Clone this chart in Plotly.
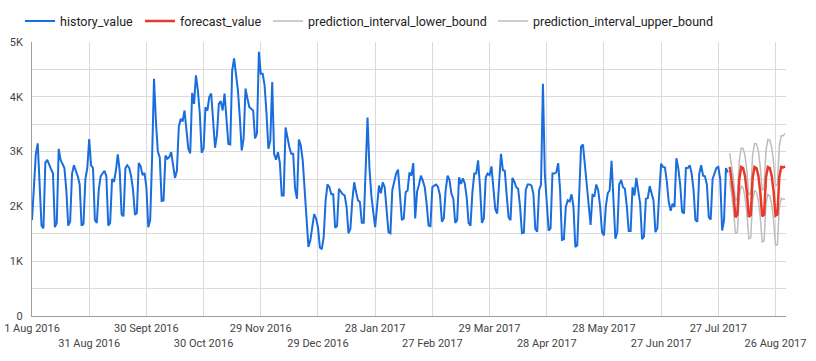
import pandas as pd
import plotly.graph_objects as go

history_start = "2016-08-01"
history_value = [
    1750, 2400, 2950, 3150, 2400, 1650, 1600,
    2800, 2850, 2750, 2680, 2600, 1620, 1700,
    3050, 2850, 2780, 2700, 2300, 1650, 1720,
    2600, 2750, 2650, 2550, 2400, 1650, 1680,
    2500, 2700, 3230, 2750, 2700, 1750, 1700,
    2300, 2550, 2600, 2650, 2550, 1650, 1700,
    2500, 2450, 2650, 2950, 2650, 1850, 1820,
    2700, 2750, 2700, 2550, 2300, 1850, 1880,
    2790, 2730, 2570, 2610, 2350, 1620, 1750,
    2900, 4330, 3550, 3000, 2900, 2100, 2110,
    2930, 2870, 2900, 2990, 2780, 2520, 2650,
    3450, 3600, 3550, 3750, 3400, 3050, 2970,
    4070, 3870, 4390, 4120, 3700, 2980, 3050,
    3810, 3750, 4000, 4060, 3570, 3070, 3300,
    3870, 3920, 3750, 4060, 3500, 3140, 3130,
    4480, 4700, 4420, 4120, 3630, 3020, 3240,
    4150, 3970, 3810, 3780, 3750, 3240, 3330,
    4820, 4420, 4420, 4210, 3700, 3050, 3200,
    4270, 2960, 2850, 2990, 2800, 2200, 2200,
    3440, 3240, 3080, 2960, 2960, 2320, 2140,
    3220, 3110, 2840, 2300, 1900, 1260, 1380,
    1620, 1860, 1780, 1620, 1250, 1220, 1440,
    2100, 2400, 2350, 2220, 2220, 1610, 1640,
    2320, 2260, 2220, 2200, 1990, 1510, 1590,
    2100, 2440, 2260, 2110, 2080, 1700, 1700,
    2800, 3620, 2700, 2200, 1900, 1620, 2000,
    2380, 2240, 2440, 2350, 2000, 1530, 1510,
    2300, 2450, 2600, 2670, 2200, 1750, 1780,
    2260, 2290, 2620, 2560, 2790, 1780, 2270,
    2400, 2560, 2470, 2350, 2050, 1650, 1640,
    2350, 2380, 2400, 2350, 2200, 1720, 1780,
    2300, 2560, 2480, 2230, 2140, 1700, 1750,
    2530, 2410, 2510, 2420, 2170, 1700, 1650,
    2250, 2600, 2600, 2840, 2350, 1700, 1780,
    2530, 2600, 2570, 2730, 2250, 1950, 1870,
    2400, 2960, 2660, 2650, 2200, 1800, 1750,
    2520, 2450, 2350, 2320, 2000, 1510, 1520,
    2300, 2400, 2400, 2380, 2230, 1590, 1540,
    2300, 2400, 4240, 2600, 2100, 1560, 1600,
    2600, 2600, 2620, 2790, 2300, 1390, 1400,
    1990, 2110, 2090, 2220, 2000, 1260, 1290,
    2200, 3090, 3130, 2750, 2300, 1900, 1660,
    2210, 2190, 2400, 2290, 2000, 1530, 1470,
    2000, 2240, 2290, 2830, 2200, 1410, 1530,
    2400, 2480, 2350, 2320, 2000, 1550, 1550,
    2350, 2200, 2520, 2290, 2050, 1400, 1450,
    2140, 2150, 2370, 2260, 2110, 1530, 1600,
    2230, 2780, 2720, 2710, 2450, 2080, 1920,
    2050, 1990, 2880, 2700, 2400, 1900, 1870,
    2700, 2700, 2750, 2600, 2300, 1750, 1720,
    2600, 2750, 2560, 2550, 2400, 1800, 1760,
    2500, 2620, 2700, 2720, 2500, 1560, 1750,
    2700, 2620,
]

forecast_start = "2017-08-02"
forecast_value = [
    2720, 2500, 2200, 1800, 1850,
    2500, 2720, 2700, 2550, 2250, 1810, 1840,
    2520, 2720, 2700, 2560, 2260, 1820, 1850,
    2530, 2720, 2700, 2560, 2270, 1830, 1850,
    2540, 2720, 2710, 2730,
]
prediction_interval_lower_bound = [
    2470, 2235, 1920, 1500, 1535,
    2170, 2375, 2340, 2175, 1860, 1410, 1430,
    2100, 2290, 2260, 2110, 1800, 1350, 1370,
    2050, 2220, 2190, 2040, 1740, 1290, 1300,
    1980, 2150, 2130, 2130,
]
prediction_interval_upper_bound = [
    2970, 2765, 2480, 2100, 2165,
    2830, 3065, 3060, 2925, 2640, 2210, 2250,
    2940, 3150, 3140, 3010, 2720, 2290, 2330,
    3020, 3220, 3210, 3080, 2800, 2370, 2400,
    3100, 3290, 3290, 3330,
]

tick_dates = ["2016-08-01", "2016-08-31", "2016-09-30", "2016-10-30", "2016-11-29",
              "2016-12-29", "2017-01-28", "2017-02-27", "2017-03-29", "2017-04-28",
              "2017-05-28", "2017-06-27", "2017-07-27", "2017-08-26"]
tick_labels = ["1 Aug 2016", "31 Aug 2016", "30 Sept 2016", "30 Oct 2016", "29 Nov 2016",
               "29 Dec 2016", "28 Jan 2017", "27 Feb 2017", "29 Mar 2017", "28 Apr 2017",
               "28 May 2017", "27 Jun 2017", "27 Jul 2017", "26 Aug 2017"]
y_tick_vals = [0, 1000, 2000, 3000, 4000, 5000]
y_tick_labels = ["0", "1K", "2K", "3K", "4K", "5K"]

hist_x = pd.date_range(history_start, periods=len(history_value), freq="D")
fc_x = pd.date_range(forecast_start, periods=len(forecast_value), freq="D")

BLUE = "#1a6ddc"
RED = "#e8392b"
GRAY = "#bdbdbd"

fig = go.Figure()
fig.add_trace(go.Scatter(x=hist_x, y=history_value, mode="lines", name="history_value",
                         line=dict(color=BLUE, width=2), legend="legend"))
fig.add_trace(go.Scatter(x=fc_x, y=prediction_interval_lower_bound, mode="lines",
                         name="prediction_interval_lower_bound",
                         line=dict(color=GRAY, width=1.5), legend="legend3"))
fig.add_trace(go.Scatter(x=fc_x, y=prediction_interval_upper_bound, mode="lines",
                         name="prediction_interval_upper_bound",
                         line=dict(color=GRAY, width=1.5), legend="legend4"))
fig.add_trace(go.Scatter(x=fc_x, y=forecast_value, mode="lines", name="forecast_value",
                         line=dict(color=RED, width=2.5), legend="legend2"))

ticktext = [t if i % 2 == 0 else "<br>" + t for i, t in enumerate(tick_labels)]

legend_font = dict(family="Roboto", size=12.5, color="#222222")


def legend_at(px):
    return dict(orientation="h", x=(px - 32) / 754, xanchor="left", y=1.075,
                yanchor="middle", font=legend_font, itemwidth=30,
                bgcolor="rgba(0,0,0,0)")


fig.update_layout(
    width=816, height=361,
    margin=dict(l=32, r=30, t=42, b=45, autoexpand=False),
    paper_bgcolor="white", plot_bgcolor="white",
    font=dict(family="Roboto", size=11, color="#444444"),
    showlegend=True,
    legend=legend_at(20),
    legend2=legend_at(140),
    legend3=legend_at(268),
    legend4=legend_at(493),
    xaxis=dict(
        range=["2016-08-01", "2017-08-31 12:00"],
        tickvals=tick_dates, ticktext=ticktext, tickangle=0,
        showgrid=True, gridcolor="#dadada", gridwidth=1,
        showline=True, linecolor="#9e9e9e", linewidth=1,
        ticks="", zeroline=False, ticklabelstandoff=2,
        tickfont=dict(family="Roboto", size=11, color="#444444"),
    ),
    yaxis=dict(
        range=[0, 5000],
        tickvals=y_tick_vals, ticktext=y_tick_labels,
        showgrid=True, gridcolor="#dadada", gridwidth=1,
        minor=dict(dtick=500, showgrid=True, gridcolor="#dadada", gridwidth=1),
        showline=True, linecolor="#9e9e9e", linewidth=1,
        ticks="", zeroline=False, ticklabelstandoff=6,
        tickfont=dict(family="Roboto", size=11, color="#444444"),
    ),
)

fig.write_html("out.html", config={"displayModeBar": False},
               post_script="document.body.style.margin='0';")
